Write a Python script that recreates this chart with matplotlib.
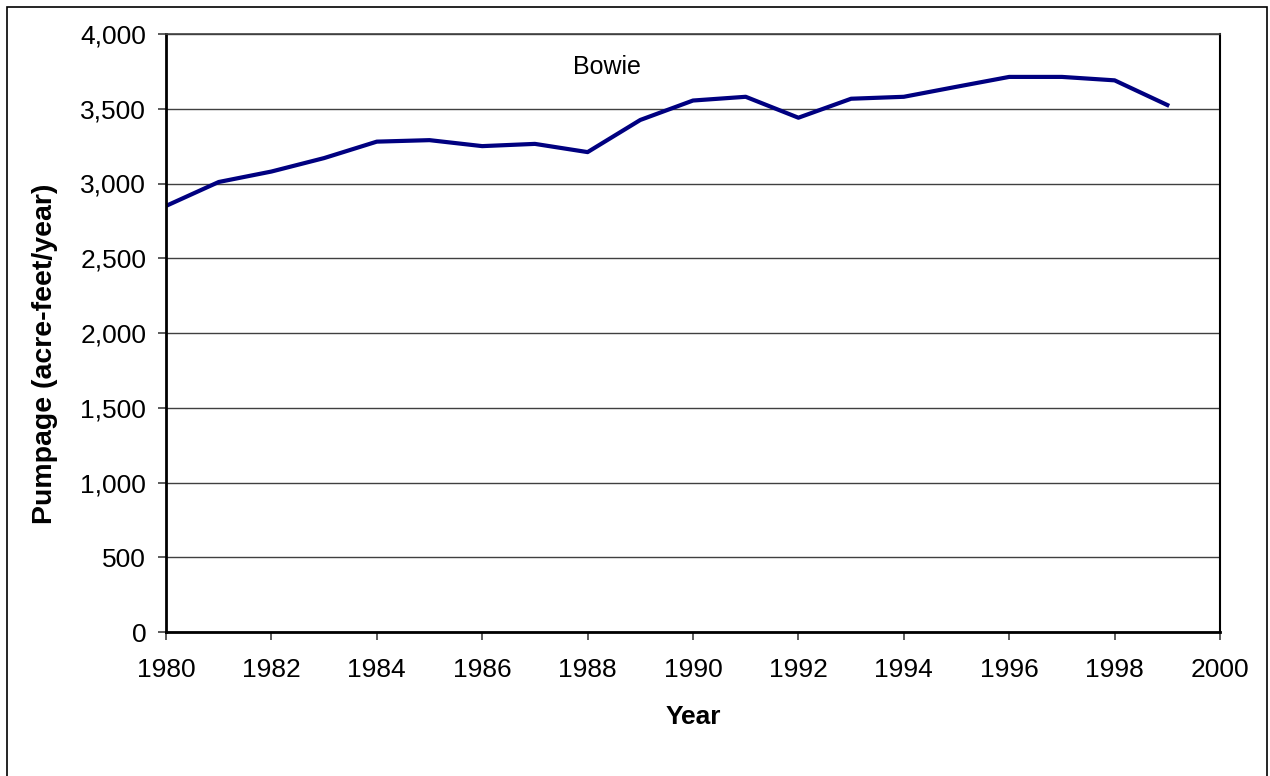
import matplotlib
matplotlib.use('Agg')
import matplotlib.pyplot as plt
from matplotlib.patches import Rectangle
from matplotlib.ticker import FuncFormatter

plt.rcParams['font.family'] = ['Liberation Sans', 'DejaVu Sans']

# pumpage data
years = [1980, 1981, 1982, 1983, 1984, 1985, 1986, 1987, 1988, 1989,
         1990, 1991, 1992, 1993, 1994, 1995, 1996, 1997, 1998, 1999]
pumpage = [2850, 3010, 3080, 3170, 3280, 3290, 3250, 3265, 3210, 3425,
           3555, 3580, 3440, 3567, 3580, 3647, 3713, 3713, 3690, 3525]
x_ticks = list(range(1980, 2001, 2))
y_ticks = list(range(0, 4001, 500))

fig = plt.figure(figsize=(12.7, 7.76), dpi=100)
# outer chart frame (bottom edge runs off the image)
fig.patches.append(Rectangle((7 / 1270, -10 / 776), 1260 / 1270, 779 / 776,
                             transform=fig.transFigure, fill=False,
                             edgecolor='black', linewidth=1.2))

ax = fig.add_axes([166 / 1270, 1 - 632 / 776, (1220 - 166) / 1270, (632 - 34) / 776])
ax.plot(years, pumpage, color='#000080', linewidth=3)

ax.set_xlim(1980, 2000)
ax.set_ylim(0, 4000)
ax.set_xticks(x_ticks)
ax.set_yticks(y_ticks)
ax.yaxis.set_major_formatter(FuncFormatter(lambda v, p: f'{int(v):,}'))
ax.grid(axis='y', color='#404040', linewidth=1)
ax.set_axisbelow(True)
ax.tick_params(direction='out', length=5.8, width=1.2, labelsize=19, color='#404040')
ax.tick_params(axis='x', pad=13)
ax.tick_params(axis='y', pad=8.5)

for side in ['left', 'bottom']:
    ax.spines[side].set_linewidth(2)
    ax.spines[side].set_color('black')
ax.spines['right'].set_linewidth(1.5)
ax.spines['top'].set_linewidth(1.2)
ax.spines['top'].set_color('#404040')

ax.set_xlabel('Year', fontsize=19, fontweight='bold', va='center')
ax.xaxis.set_label_coords(0.5, -0.142)
ax.set_ylabel('Pumpage (acre-feet/year)', fontsize=20.5, fontweight='bold', va='center')
ax.yaxis.set_label_coords(-0.115, 0.465)
ax.text(0.418, 0.945, 'Bowie', transform=ax.transAxes, fontsize=18, ha='center', va='center')

fig.savefig('out.png', dpi=100)
